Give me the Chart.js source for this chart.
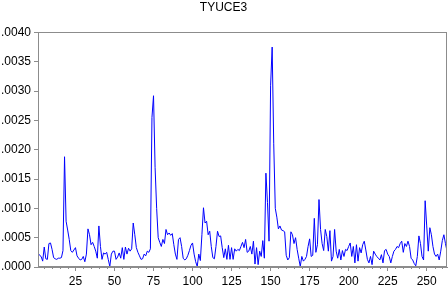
<!DOCTYPE html>
<html>
<head>
<meta charset="utf-8">
<script src="https://cdn.jsdelivr.net/npm/chart.js@4.4.0/dist/chart.umd.min.js"></script>
<style>
  html, body { margin: 0; padding: 0; background: #fff; }
  #wrap { width: 448px; height: 285px; }
</style>
</head>
<body>
<div id="wrap"><canvas id="chart" width="448" height="285"></canvas></div>
<script>
const seriesName = "TYUCE3";
const firstObs = 1;
const tyuce3 = [
    .00024, .0002, .00018, .0001, .00034, .00014, .00013, .0004, .00041, .0003,
    .00016, .00014, .00013, .00015, .00015, .00016, .00028, .00188, .00078, .00063,
    .00047, .00028, .00025, .00029, .00033, .00019, .00015, .00012, .00013, .00018,
    .00009, .00022, .00065, .00055, .00038, .00042, .00035, .00027, .00015, .0007,
    .00035, .00013, .00024, .00022, .00025, .00013, .00001, .00022, .00027, .00027,
    .00013, .00017, .00024, .00015, .00033, .00013, .00034, .00022, .00032, .00027,
    .00031, .00075, .00055, .00033, .00025, .00019, .00013, .00014, .00022, .00019,
    .00027, .00025, .00031, .00255, .00292, .0017, .001, .0005, .00042, .00035,
    .00047, .0004, .00064, .00055, .00058, .00054, .00057, .00038, .00022, .00013,
    .00047, .0005, .00035, .00015, .00012, .00014, .0002, .00028, .00037, .00041,
    .00022, .00009, .00001, .00022, .00011, .00055, .00101, .00075, .00078, .00055,
    .00061, .00035, .00016, .00014, .00035, .00061, .00052, .00053, .00033, .00016,
    .00031, .00013, .00037, .00013, .00033, .00013, .00031, .00027, .0003, .00028,
    .00035, .00042, .00033, .00047, .00025, .00027, .00035, .00022, .00044, .00005,
    .00033, .00004, .00027, .00018, .00045, .00015, .0016, .0011, .00044, .0031,
    .00375, .0021, .001, .00085, .00065, .0007, .00063, .00062, .0006, .0002,
    .00012, .00016, .0006, .00055, .0004, .0005, .0003, .00015, .00001, .00018,
    .0001, .00013, .00018, .00035, .00048, .00018, .0002, .00083, .00025, .00038,
    .00115, .00064, .0004, .00028, .00064, .00052, .00027, .00062, .0001, .00018,
    .00064, .00027, .00015, .0003, .00012, .00028, .00018, .0003, .00028, .00035,
    .00041, .00018, .00035, .00007, .00038, .0001, .00033, .00024, .00038, .00044,
    .00029, .00013, .00007, .00018, .00004, .00027, .00022, .00018, .00015, .00012,
    .00021, .00007, .00028, .0003, .00022, .00018, .00007, .00018, .00027, .0003,
    .00035, .00033, .0004, .00044, .00025, .0004, .00035, .00044, .00035, .00015,
    .00012, .00006, .00002, .00018, .00053, .0004, .00018, .00012, .00113, .0007,
    .00027, .00067, .00055, .00035, .00022, .00018, .00022, .00012, .00027, .00045,
    .00055, .0004, .00027
];
const xTickLabels = [25, 50, 75, 100, 125, 150, 175, 200, 225, 250];
const yTickLabels = [".0000", ".0005", ".0010", ".0015", ".0020", ".0025", ".0030", ".0035", ".0040"];

const axisGray = '#8c8c8c';
const fontFamily = 'Arial, "Liberation Sans", sans-serif';

// box around the plot + short minor ticks on the x axis
const framePlugin = {
    id: 'frame',
    afterDraw(chart) {
        const { ctx, chartArea: a } = chart;
        const xs = chart.scales.x;
        ctx.save();
        ctx.strokeStyle = axisGray;
        ctx.lineWidth = 1;
        const l = Math.round(a.left) + 0.5, r = Math.round(a.right) - 0.5;
        const t = Math.round(a.top) + 0.5, b = Math.round(a.bottom) - 0.5;
        ctx.strokeRect(l, t, r - l, b - t);
        ctx.beginPath();
        xs.ticks.forEach(tk => {
            if (xTickLabels.includes(tk.value)) return;
            const px = Math.round(xs.getPixelForValue(tk.value)) + 0.5;
            ctx.moveTo(px, b);
            ctx.lineTo(px, b + 2.5);
        });
        ctx.stroke();
        ctx.restore();
    }
};

const ctx = document.getElementById('chart');
const lineChart = new Chart(ctx, {
    type: 'line',
    data: {
        datasets: [{
            label: seriesName,
            data: tyuce3.map((v, i) => ({ x: firstObs + i, y: v })),
            borderColor: '#0000ff',
            borderWidth: 1,
            pointRadius: 0,
            tension: 0,
            fill: false
        }]
    },
    options: {
        responsive: false,
        animation: false,
        devicePixelRatio: 1,
        layout: { padding: { top: 0, right: 1, left: 0, bottom: 0 } },
        plugins: {
            legend: { display: false },
            tooltip: { enabled: false },
            title: {
                display: true,
                text: seriesName,
                color: '#000',
                font: { family: fontFamily, size: 12, weight: 'normal' },
                padding: { top: 0, bottom: 18 }
            }
        },
        scales: {
            x: {
                type: 'linear',
                min: firstObs,
                max: firstObs + tyuce3.length - 1,
                afterFit: s => { s.height = 18; },
                border: { display: true, color: axisGray },
                grid: {
                    drawOnChartArea: false,
                    drawTicks: true,
                    tickLength: 4,
                    tickColor: c => xTickLabels.includes(c.tick && c.tick.value) ? axisGray : 'rgba(0,0,0,0)'
                },
                ticks: {
                    stepSize: 5,
                    includeBounds: false,
                    autoSkip: false,
                    maxRotation: 0,
                    padding: 3,
                    color: '#000',
                    font: { family: fontFamily, size: 12 },
                    callback: v => xTickLabels.includes(v) ? String(v) : ''
                }
            },
            y: {
                min: 0,
                max: 0.004,
                afterFit: s => { s.width = 38; },
                border: { display: true, color: axisGray },
                grid: {
                    drawOnChartArea: false,
                    drawTicks: true,
                    tickLength: 4,
                    tickColor: axisGray
                },
                ticks: {
                    stepSize: 0.0005,
                    padding: 3,
                    color: '#000',
                    font: { family: fontFamily, size: 12 },
                    callback: (v, i) => yTickLabels[i]
                }
            }
        }
    },
    plugins: [framePlugin]
});
</script>
</body>
</html>
